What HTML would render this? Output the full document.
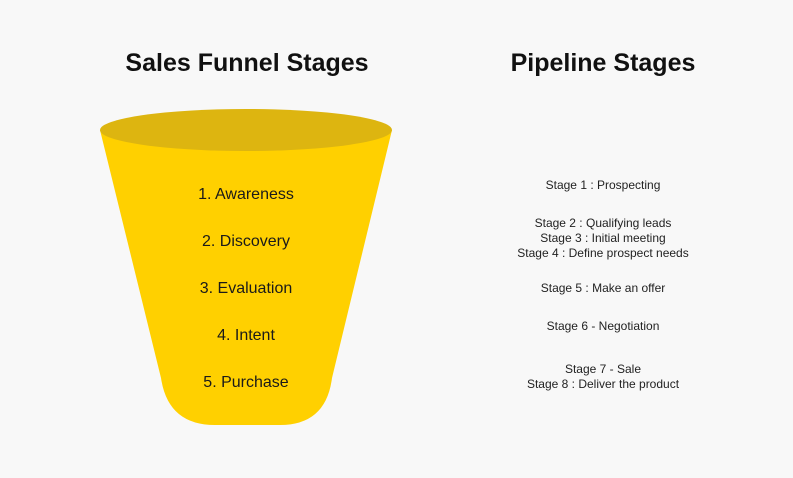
<!DOCTYPE html>
<html><head><style>
body{margin:0;background:#f8f8f8;width:793px;height:473px;overflow:hidden;font-family:"Liberation Sans",sans-serif}
</style></head><body>
<svg width="793" height="473" xmlns="http://www.w3.org/2000/svg">
<rect width="793" height="473" fill="#f8f8f8"/>
<text x="247" y="71" text-anchor="middle" font-family="Liberation Sans" font-weight="bold" font-size="25" fill="#111">Sales Funnel Stages</text>
<text x="603" y="71" text-anchor="middle" font-family="Liberation Sans" font-weight="bold" font-size="25" fill="#111">Pipeline Stages</text>
<path d="M100,130 L161,378 Q168,425 215,425 L280,425 Q326,425 332,378 L392,130 Z" fill="#FFD000"/>
<ellipse cx="246" cy="130" rx="146" ry="21" fill="#DDB510"/>
<g font-family="Liberation Sans" font-size="16" fill="#1a1a1a" text-anchor="middle">
<text x="246" y="199">1. Awareness</text>
<text x="246" y="246">2. Discovery</text>
<text x="246" y="293">3. Evaluation</text>
<text x="246" y="340">4. Intent</text>
<text x="246" y="387">5. Purchase</text>
</g>
<g font-family="Liberation Sans" font-size="12" fill="#222" text-anchor="middle">
<text x="603" y="189">Stage 1 : Prospecting</text>
<text x="603" y="227">Stage 2 : Qualifying leads</text>
<text x="603" y="242">Stage 3 : Initial meeting</text>
<text x="603" y="257">Stage 4 : Define prospect needs</text>
<text x="603" y="292">Stage 5 : Make an offer</text>
<text x="603" y="330">Stage 6 - Negotiation</text>
<text x="603" y="373">Stage 7 - Sale</text>
<text x="603" y="388">Stage 8 : Deliver the product</text>
</g>
</svg>
</body></html>
